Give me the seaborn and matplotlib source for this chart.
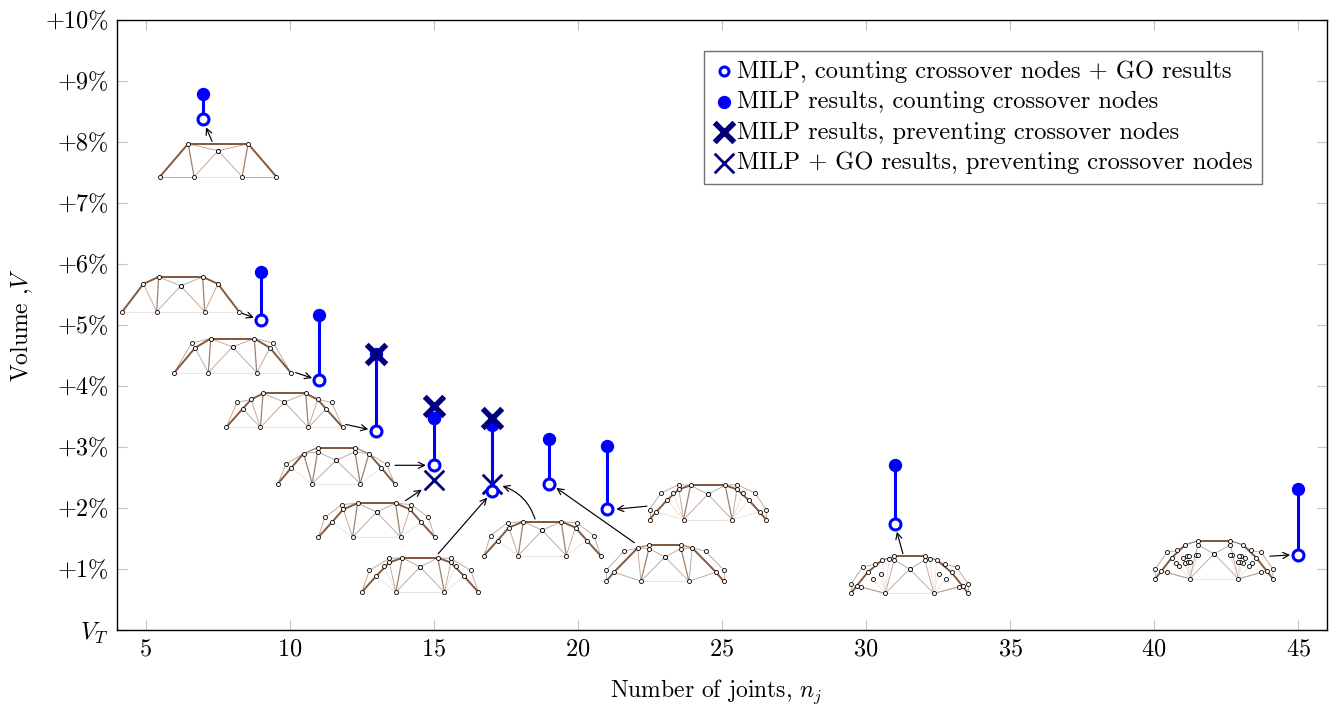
import matplotlib
matplotlib.use('Agg')
import matplotlib.pyplot as plt
import seaborn as sns

# values
joints_open = [7, 9, 11, 13, 15, 17, 19, 21, 31, 45]
go_counting = [8.385, 5.08, 4.10, 3.26, 2.70, 2.28, 2.39, 1.98, 1.74, 1.23]
milp_counting = [8.79, 5.87, 5.16, 4.52, 3.48, 3.36, 3.13, 3.02, 2.70, 2.31]
joints_prevent = [13, 15, 17]
milp_prevent = [4.52, 3.68, 3.47]
joints_go_prevent = [15, 17]
go_prevent = [2.46, 2.39]

x_ticks = [5, 10, 15, 20, 25, 30, 35, 40, 45]
y_ticks = list(range(0, 11))
y_tick_labels = ['$V_T$'] + ['+%d%%' % v for v in range(1, 11)]

legend_labels = [
    'MILP, counting crossover nodes + GO results',
    'MILP results, counting crossover nodes',
    'MILP results, preventing crossover nodes',
    'MILP + GO results, preventing crossover nodes',
]

# truss sketches: half of each layout (mirrored when drawn), offsets in pixels.
# member = (node, node, weight), ~n is the mirrored node n
nodes_7 = [(58.3, 0), (24, 0), (30, 33), (0, 26)]
members_7 = [(0, 2, 'a'), (2, ~2, 'a'), (2, 1, 'b'), (2, 3, 'c'), (3, 1, 'c'), (0, 1, 'c'), (1, ~1, 'd')]

nodes_9 = [(58.3, 0), (24, 0), (37.3, 27.7), (22, 34.7), (0, 25.7)]
members_9 = [(0, 2, 'a'), (2, 3, 'a'), (3, ~3, 'a'), (2, 1, 'c'), (3, 1, 'b'), (3, 4, 'c'), (4, 1, 'c'),
             (0, 1, 'd'), (1, ~1, 'd')]

nodes_11 = [(58.2, 0), (24.2, 0), (37.5, 24.7), (40.8, 29.7), (21.8, 34), (0, 25.7)]
members_11 = [(0, 2, 'a'), (2, 4, 'a'), (4, ~4, 'a'), (0, 3, 'c'), (3, 4, 'c'), (2, 1, 'c'), (4, 1, 'b'),
              (4, 5, 'c'), (5, 1, 'c'), (0, 1, 'd'), (1, ~1, 'd')]

nodes_13 = [(58.3, 0), (24, 0), (41.7, 18.7), (47.3, 25), (33.3, 28), (21.3, 34), (0, 25.3)]
members_13 = [(0, 2, 'a'), (2, 4, 'a'), (4, 5, 'a'), (5, ~5, 'a'), (0, 3, 'c'), (3, 4, 'c'), (2, 1, 'c'),
              (4, 1, 'c'), (5, 1, 'b'), (5, 6, 'c'), (6, 1, 'c'), (0, 1, 'd'), (1, ~1, 'd')]

nodes_15 = [(58.3, 0), (24, 0), (50.3, 19.3), (45, 15.7), (32.7, 30), (18.7, 36), (18.7, 31.7), (0, 23.3)]
members_15 = [(0, 3, 'a'), (3, 4, 'a'), (4, 5, 'b'), (5, ~5, 'a'), (0, 2, 'c'), (2, 4, 'c'), (3, 1, 'd'),
              (4, 1, 'b'), (6, 1, 'b'), (4, 6, 'c'), (6, 7, 'c'), (7, 1, 'c'), (1, ~1, 'd')]

nodes_15b = [(58.3, 0), (24, 0), (51.7, 20), (44.7, 15), (34.7, 32.7), (33.3, 28), (19, 34), (0, 25.3)]
members_15b = [(0, 3, 'a'), (3, 5, 'a'), (5, 6, 'a'), (6, ~6, 'a'), (0, 2, 'c'), (2, 4, 'c'), (4, 6, 'c'),
               (3, 1, 'd'), (5, 1, 'c'), (6, 1, 'b'), (6, 7, 'c'), (7, 1, 'c'), (1, ~1, 'd')]

nodes_17 = [(58.3, 0), (24.3, 0), (50.7, 21.7), (44, 16), (35.7, 26), (31, 33.7), (30.7, 29.7), (17.7, 34.3),
            (0, 25.3)]
members_17 = [(0, 3, 'a'), (3, 6, 'a'), (6, 7, 'a'), (7, ~7, 'a'), (0, 2, 'c'), (2, 5, 'c'), (5, 7, 'c'),
              (3, 1, 'd'), (4, 1, 'd'), (6, 1, 'c'), (7, 1, 'b'), (7, 8, 'c'), (8, 1, 'c'), (1, ~1, 'd')]

nodes_19 = [(58.7, 0), (24, 0), (58.7, 11.3), (51, 9), (40.7, 30), (27.3, 33.3), (16, 36.3), (16, 32.7),
            (0, 24.3)]
members_19 = [(0, 3, 'a'), (3, 5, 'a'), (5, 6, 'b'), (6, ~6, 'a'), (0, 2, 'c'), (2, 4, 'c'), (4, 5, 'c'),
              (3, 1, 'c'), (5, 1, 'c'), (7, 1, 'b'), (5, 7, 'c'), (7, 8, 'c'), (8, 1, 'c'), (1, ~1, 'd')]

nodes_21 = [(58.3, 0), (24.3, 0), (58.3, 10), (51.7, 7.7), (47.3, 26.3), (41, 19.3), (35, 26.3), (29.3, 35),
            (29, 30.3), (17.3, 34.3), (0, 25.3)]
members_21 = [(0, 3, 'a'), (3, 5, 'a'), (5, 8, 'a'), (8, 9, 'a'), (9, ~9, 'a'), (0, 2, 'c'), (2, 4, 'c'),
              (4, 7, 'c'), (7, 9, 'c'), (3, 1, 'd'), (5, 1, 'd'), (6, 1, 'd'), (8, 1, 'c'), (9, 1, 'b'),
              (9, 10, 'c'), (10, 1, 'c'), (1, ~1, 'd')]

nodes_31 = [(58.7, 0), (24.3, 0), (58.7, 9.3), (53, 7.3), (49, 6.7), (47, 26.3), (42, 21), (36.3, 14.3),
            (35, 29), (29, 19.3), (27.3, 33.3), (20.3, 34), (15.3, 37), (15.3, 33.3), (0, 24.3)]
members_31 = [(0, 3, 'a'), (3, 6, 'a'), (6, 10, 'a'), (10, 12, 'b'), (12, ~12, 'a'), (0, 2, 'c'), (2, 5, 'c'),
              (5, 8, 'c'), (8, 10, 'c'), (4, 1, 'c'), (3, 1, 'c'), (7, 1, 'd'), (9, 1, 'd'), (10, 1, 'd'),
              (11, 1, 'd'), (13, 1, 'c'), (13, 14, 'c'), (14, 1, 'c'), (1, ~1, 'd')]

nodes_45 = [(58.7, 0), (24.3, 0), (59, 9.3), (52.7, 7.7), (47.3, 6.3), (47.3, 26.3), (42.3, 21), (36.7, 28.3),
            (38, 15.7), (35.3, 12.3), (31.3, 21), (28.7, 34), (29, 16), (27.3, 22.7), (24.7, 23), (25.7, 16.3),
            (24, 16.7), (16.3, 38), (16.3, 33.7), (18, 23.3), (16, 23.3), (0, 25)]
members_45 = [(0, 3, 'a'), (3, 6, 'a'), (6, 11, 'a'), (11, 17, 'b'), (17, ~17, 'a'), (0, 2, 'c'), (2, 5, 'c'),
              (5, 7, 'c'), (7, 11, 'c'), (4, 1, 'c'), (3, 1, 'c'), (9, 1, 'd'), (12, 1, 'd'), (13, 1, 'd'),
              (15, 1, 'd'), (16, 1, 'd'), (18, 1, 'c'), (18, 21, 'c'), (21, 1, 'c'), (20, 1, 'd'), (1, ~1, 'd')]

# centre x (joints), base y (%), nodes, members
trusses = [
    (7.51, 7.43, nodes_7, members_7),
    (6.21, 5.22, nodes_9, members_9),
    (8.01, 4.22, nodes_11, members_11),
    (9.81, 3.32, nodes_13, members_13),
    (11.61, 2.40, nodes_15, members_15),
    (13.01, 1.52, nodes_15b, members_15b),
    (14.52, 0.62, nodes_17, members_17),
    (18.76, 1.22, nodes_15b, members_15b),
    (23.02, 0.80, nodes_19, members_19),
    (24.51, 1.81, nodes_21, members_21),
    (31.51, 0.60, nodes_31, members_31),
    (42.08, 0.84, nodes_45, members_45),
]

# arrow tail and head in data units, with curvature
arrows = [
    ((7.30, 8.01), (7.09, 8.24), 0),
    ((8.35, 5.19), (8.75, 5.12), 0),
    ((10.20, 4.22), (10.77, 4.13), 0),
    ((11.94, 3.37), (12.72, 3.29), 0),
    ((13.65, 2.70), (14.72, 2.70), 0),
    ((14.01, 2.12), (14.58, 2.30), 0),
    ((15.15, 1.25), (16.85, 2.17), 0),
    ((18.51, 1.82), (17.38, 2.36), 0.25),
    ((21.96, 1.43), (19.25, 2.33), 0),
    ((22.39, 2.03), (21.33, 1.98), 0),
    ((31.28, 1.25), (31.07, 1.61), 0),
    ((44.02, 1.21), (44.72, 1.23), 0),
]

brown = {'a': '#85593c', 'b': '#a08068', 'c': '#bda696', 'd': '#ebe3de'}
width = {'a': 1.4, 'b': 0.9, 'c': 0.65, 'd': 0.65}
blue = '#0000ff'
navy = '#00007f'

sns.set_theme(style='ticks')
plt.rcParams['font.family'] = ['cmr10', 'DejaVu Serif']
plt.rcParams['mathtext.fontset'] = 'cm'
plt.rcParams['axes.unicode_minus'] = False
plt.rcParams['axes.formatter.use_mathtext'] = True
plt.rcParams['text.color'] = 'black'

fig = plt.figure(figsize=(13.3, 7.04), dpi=100)
ax = fig.add_axes([117 / 1330, 1 - 630 / 704, 1210 / 1330, 610 / 704])

# legend order follows the call order, zorder sets the stacking
sns.scatterplot(x=joints_open, y=go_counting, marker='o', s=62, color='white', edgecolor=blue,
                linewidth=2.2, zorder=6, label=legend_labels[0], ax=ax)
sns.scatterplot(x=joints_open, y=milp_counting, marker='o', s=92, color=blue, edgecolor=blue,
                linewidth=0, zorder=5, label=legend_labels[1], ax=ax)
sns.scatterplot(x=joints_prevent, y=milp_prevent, marker='x', s=200, color=navy,
                linewidth=4, zorder=7, label=legend_labels[2], ax=ax)
sns.scatterplot(x=joints_go_prevent, y=go_prevent, marker='x', s=200, color=navy,
                linewidth=2, zorder=3, label=legend_labels[3], ax=ax)
ax.vlines(joints_open, go_counting, milp_counting, color=blue, linewidth=2.2, zorder=4)
# at 15 joints the filled dot sits on top of the thick cross
i15 = joints_open.index(15)
sns.scatterplot(x=[joints_open[i15]], y=[milp_counting[i15]], marker='o', s=92, color=blue, edgecolor=blue,
                linewidth=0, zorder=8, legend=False, ax=ax)

for cx, base, nodes, members in trusses:
    def place(i):
        if i < 0:
            dx, dy = nodes[~i]
            dx = -dx
        else:
            dx, dy = nodes[i]
        return cx + dx / 28.81, base + dy / 61

    for weight in 'dcba':
        for a, b, w in members:
            if w != weight:
                continue
            for side in (1, -1):
                xa, ya = place(a)
                xb, yb = place(b)
                ax.plot([cx + side * (xa - cx), cx + side * (xb - cx)], [ya, yb],
                        color=brown[w], linewidth=width[w], zorder=1, solid_capstyle='round')
    xs = [place(i)[0] for i in range(len(nodes))] + [place(~i)[0] for i in range(len(nodes))]
    ys = [place(i)[1] for i in range(len(nodes))] * 2
    ax.plot(xs, ys, linestyle='none', marker='o', markersize=2.9, markerfacecolor='white',
            markeredgecolor='black', markeredgewidth=0.6, zorder=2)

for tail, head, rad in arrows:
    ax.annotate('', xy=head, xytext=tail,
                arrowprops=dict(arrowstyle='->', color='black', linewidth=0.85, mutation_scale=11,
                                shrinkA=0, shrinkB=0, connectionstyle='arc3,rad=%g' % rad), zorder=3)

ax.set_xlim(4, 46)
ax.set_ylim(0, 10)
ax.set_xticks(x_ticks)
ax.set_yticks(y_ticks)
ax.set_yticklabels(y_tick_labels)
ax.tick_params(direction='in', length=7.5, width=0.8, color='#c4c4c4', top=True, right=True,
               labelsize=17.5, labelcolor='black', pad=6)
ax.set_xlabel('Number of joints, $n_j$', fontsize=17, color='black')
ax.xaxis.set_label_coords((716 - 117) / 1210, -0.078)
ax.set_ylabel('Volume ,$V$', fontsize=17, color='black')
ax.yaxis.set_label_coords(-0.0675, 0.5)
for spine in ax.spines.values():
    spine.set_color('black')
    spine.set_linewidth(1.0)
    spine.set_zorder(10)

handles, labels = ax.get_legend_handles_labels()
leg = ax.legend(handles, labels, loc='upper left', bbox_to_anchor=((704 - 117) / 1210, (630 - 51) / 610),
                borderaxespad=0, fontsize=17.6, frameon=True, fancybox=False, framealpha=1, edgecolor='#707070',
                handletextpad=0.1, labelspacing=0.34, borderpad=0.38, handlelength=0.87, scatterpoints=1)
leg.legend_handles[0].set_sizes([42])

fig.savefig('out.png', dpi=100)
